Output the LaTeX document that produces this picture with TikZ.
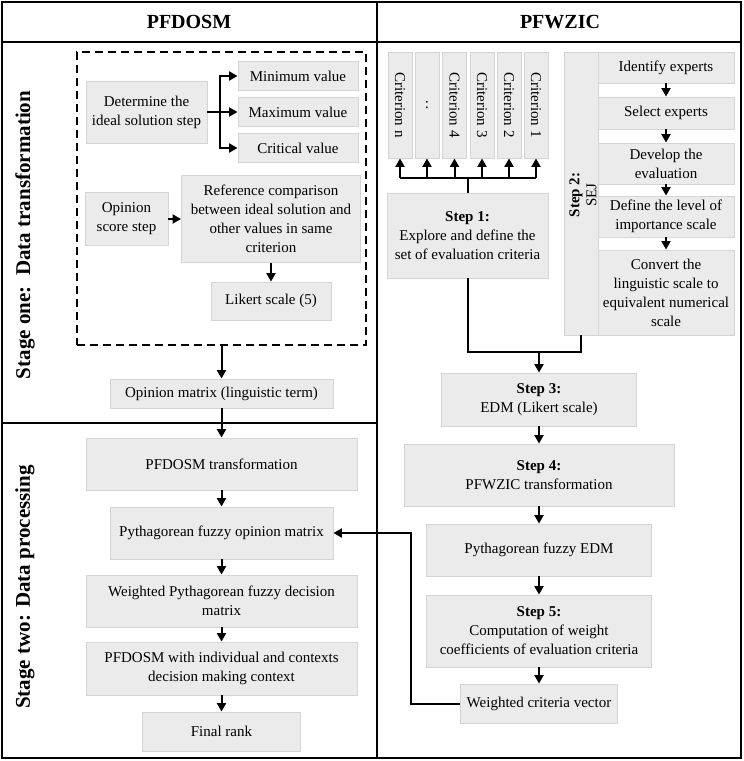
\documentclass[tikz,border=0pt]{standalone}
\usepackage{fontspec}
\setmainfont{Liberation Serif}
\usetikzlibrary{arrows.meta}
\definecolor{boxfill}{RGB}{235,235,235}
\definecolor{boxline}{RGB}{212,212,212}
\tikzset{
  box/.style={draw=boxline, fill=boxfill, line width=0.9pt, align=center, inner sep=2pt,
    font=\fontsize{15}{19}\selectfont},
  conn/.style={line width=2pt},
  arr/.style={line width=2pt, -{Triangle[length=8.5pt,width=9pt]}},
  frame/.style={line width=2pt},
  head/.style={font=\fontsize{20}{24}\selectfont\bfseries},
  stage/.style={font=\fontsize{21}{25}\selectfont\bfseries, rotate=90}
}

\begin{document}
\begin{tikzpicture}[x=1pt, y=-1pt]
		%%%%% FRAME %%%%%
		\useasboundingbox (0,0) rectangle (744,761);
		\draw[frame] (2,2) rectangle (741,758);
		\draw[frame] (2,42) -- (741,42);
		\draw[frame] (377,2) -- (377,758);
		\draw[frame] (2,423) -- (377,423);
		
		\node[head] (hleft) at (189,22) {PFDOSM};
		\node[head] (hright) at (560,22) {PFWZIC};
		\node[stage] (sone) at (25,235) {Stage one:\ \ Data transformation};
		\node[stage] (stwo) at (25,587) {Stage two: Data processing};
		
		%%%%% STAGE ONE %%%%%
		\node[draw, dash pattern=on 8pt off 5pt, line width=1.8pt, minimum width=289, minimum height=293] (dbox) at (221.5,198.5) {};
		
		\node[box, minimum width=121, minimum height=62] (det) at (146.5,112) {Determine the\\ideal solution step};
		\node[box, minimum width=120, minimum height=29] (minv) at (298,76) {Minimum value};
		\node[box, minimum width=120, minimum height=29] (maxv) at (298,112) {Maximum value};
		\node[box, minimum width=120, minimum height=29] (critv) at (298,148) {Critical value};
		\draw[conn] (det.east) -- (220,112) coordinate (br);
		\draw[arr] (br) -- (maxv);
		\draw[arr] (br) |- (minv);
		\draw[arr] (br) |- (critv);
		
		\node[box, minimum width=83, minimum height=53] (ops) at (126.5,219) {Opinion\\score step};
		\node[box, minimum width=179, minimum height=87] (ref) at (271,219) {Reference comparison\\between ideal solution and\\other values in same\\criterion};
		\node[box, minimum width=120, minimum height=38] (lik) at (271,301) {Likert scale (5)};
		\draw[arr] (ops) -- (ref);
		\draw[arr] (ref) -- (lik);
		
		\node[box, minimum width=223, minimum height=29] (om) at (221.5,393.5) {Opinion matrix (linguistic term)};
		\draw[arr] (dbox) -- (om);
		
		%%%%% STAGE TWO %%%%%
		\node[box, minimum width=271, minimum height=52] (pft) at (221.5,464) {PFDOSM transformation};
		\node[box, minimum width=223, minimum height=52] (pfo) at (221.5,533) {Pythagorean fuzzy opinion matrix};
		\node[box, minimum width=271, minimum height=52] (wpf) at (221.5,601) {Weighted Pythagorean fuzzy decision\\matrix};
		\node[box, minimum width=271, minimum height=53] (pfi) at (221.5,668.5) {PFDOSM with individual and contexts\\decision making context};
		\node[box, minimum width=158, minimum height=39] (fr) at (221.5,731.5) {Final rank};
		\draw[arr] (om) -- (pft);
		\draw[arr] (pft) -- (pfo);
		\draw[arr] (pfo) -- (wpf);
		\draw[arr] (wpf) -- (pfi);
		\draw[arr] (pfi) -- (fr);
		
		%%%%% PFWZIC %%%%%
		\foreach \n/\x/\t in {cn/400/Criterion n, c4/454.5/Criterion 4, c3/482/Criterion 3, c2/509/Criterion 2, c1/536/Criterion 1}
			\node[box, minimum width=24, minimum height=106, label={[rotate=-90, font=\fontsize{15}{19}\selectfont]center:\t}] (\n) at (\x,105) {};
		\node[box, minimum width=24, minimum height=106] (cd) at (427,105) {:};
		
		\node[box, minimum width=161, minimum height=85] (s1) at (467.5,235.5) {\textbf{Step 1:}\\Explore and define the\\set of evaluation criteria};
		\draw[conn] (s1.north) -- ++(0,-15) coordinate (bar);
		\draw[conn] (cn.south |- bar) -- (c1.south |- bar);
		\foreach \n in {cn,cd,c4,c3,c2,c1}
			\draw[arr] (\n.south |- bar) -- (\n.south);
		
		\node[box, minimum width=34, minimum height=283] (sej) at (581,193.5) {};
		\node[rotate=90, align=center, font=\fontsize{15}{17}\selectfont] (sejlbl) at (583,195) {\textbf{Step 2:}\\SEJ};
		\node[box, minimum width=136, minimum height=31] (ie) at (666,67.5) {Identify experts};
		\node[box, minimum width=136, minimum height=32] (se) at (666,113) {Select experts};
		\node[box, minimum width=136, minimum height=41] (de) at (666,163.5) {Develop the\\evaluation};
		\node[box, minimum width=136, minimum height=41] (dl) at (666,216.5) {Define the level of\\importance scale};
		\node[box, minimum width=136, minimum height=85] (cv) at (666,292.5) {Convert the\\linguistic scale to\\equivalent numerical\\scale};
		\draw[arr] (ie) -- (se);
		\draw[arr] (se) -- (de);
		\draw[arr] (de) -- (dl);
		\draw[arr] (dl) -- (cv);
		
		\coordinate (jn) at (539,352);
		\draw[conn] (s1.south) |- (sej.south |- jn) -- (sej.south);
		
		\node[box, minimum width=195, minimum height=53] (s3) at (539,399.5) {\textbf{Step 3:}\\EDM (Likert scale)};
		\node[box, minimum width=270, minimum height=62] (s4) at (539,475) {\textbf{Step 4:}\\PFWZIC transformation};
		\node[box, minimum width=225, minimum height=52] (pfe) at (539,550) {Pythagorean fuzzy EDM};
		\node[box, minimum width=225, minimum height=72] (s5) at (539,631) {\textbf{Step 5:}\\Computation of weight\\coefficients of evaluation criteria};
		\node[box, minimum width=157, minimum height=39] (wcv) at (539,703.5) {Weighted criteria vector};
		\draw[arr] (jn) -- (s3);
		\draw[arr] (s3) -- (s4);
		\draw[arr] (s4) -- (pfe);
		\draw[arr] (pfe) -- (s5);
		\draw[arr] (s5) -- (wcv);
		\draw[arr] (wcv.west) -- ++(-49,0) |- (pfo.east);
		
		%%%%% END %%%%%
	\end{tikzpicture}
\end{document}
